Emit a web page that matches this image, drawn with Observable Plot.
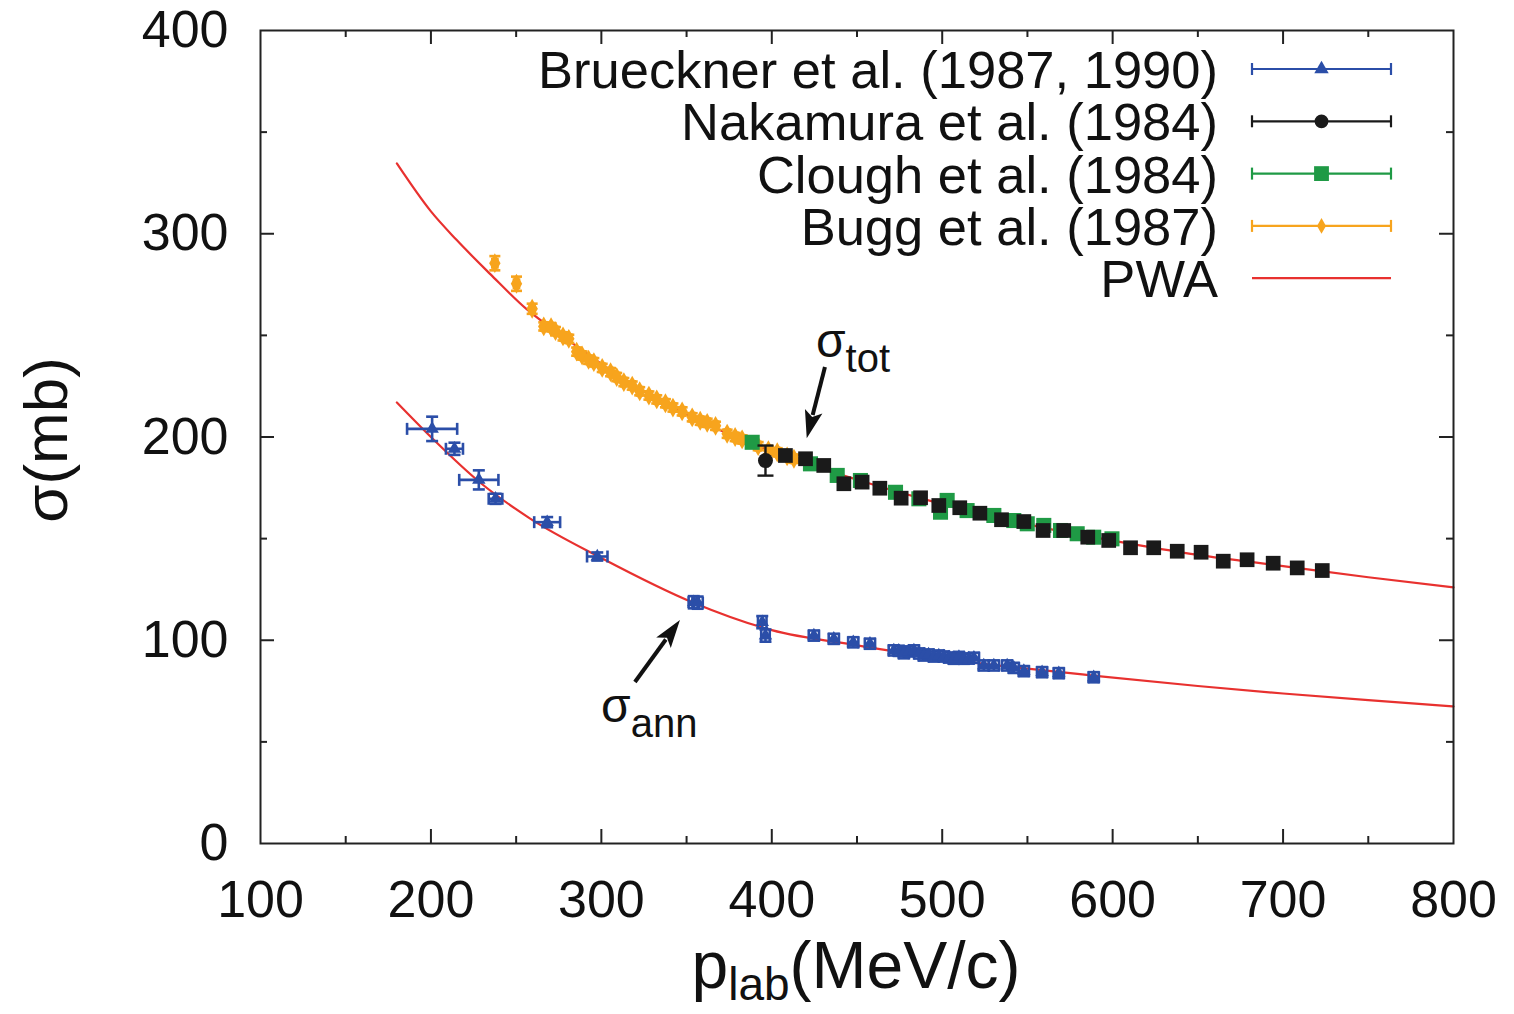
<!DOCTYPE html>
<html><head><meta charset="utf-8">
<script src="https://cdn.jsdelivr.net/npm/d3@7"></script>
<script src="https://cdn.jsdelivr.net/npm/@observablehq/plot@0.6"></script>
<style>body{margin:0;background:#fff}#chart{width:1514px;height:1014px}</style>
</head><body><div id="chart"></div>
<script>
// ---------- axis ticks ----------
const xTickLabels = [100, 200, 300, 400, 500, 600, 700, 800];
const yTickLabels = [0, 100, 200, 300, 400];
const xMajorInner = [200, 300, 400, 500, 600, 700];
const yMajorInner = [100, 200, 300];
const xMinor = [150, 250, 350, 450, 550, 650, 750];
const yMinor = [50, 150, 250, 350];

// ---------- Brueckner et al. (1987, 1990) : sigma_ann ----------
const bruecknerP  = [200.7, 213.8, 228.1, 237.9, 268.2, 297.6, 354.2, 356.5, 394.4, 396.3, 424.7, 436.4, 447.8, 457.6, 471.6, 474.5, 477.5, 480.5, 483.4, 486.5, 489.2, 492.0, 495.1, 498.0, 501.0, 504.0, 506.8, 509.8, 512.7, 515.6, 518.6, 524.4, 530.3, 538.1, 542.0, 547.9, 558.6, 568.4, 588.9];
const bruecknerS  = [204.0, 194.2, 178.9, 169.6, 158.1, 141.2, 118.7, 118.5, 108.9, 102.3, 102.3, 100.7, 99.0, 98.3, 95.0, 94.8, 93.6, 94.5, 95.0, 93.5, 92.5, 93.0, 92.0, 92.5, 92.0, 91.5, 90.9, 91.8, 90.9, 91.0, 91.4, 87.6, 87.6, 87.6, 86.4, 84.8, 84.3, 83.8, 81.8];
const bruecknerDP = [14.7, 5.0, 11.5, 4.0, 7.6, 6.0, 3.0, 3.0, 2.5, 2.5, 3, 3, 3, 3, 3, 3, 3, 3, 3, 3, 3, 3, 3, 3, 3, 3, 3, 3, 3, 3, 3, 3, 3, 3, 3, 3, 3, 3, 3];
const bruecknerDS = [6.0, 3.0, 4.7, 2.5, 2.5, 2.0, 3.0, 3.0, 3.0, 3.0, 2.5, 2.5, 2.5, 2.5, 2.5, 2.5, 2.5, 2.5, 2.5, 2.5, 2.5, 2.5, 2.5, 2.5, 2.5, 2.5, 2.5, 2.5, 2.5, 2.5, 2.5, 2.5, 2.5, 2.5, 2.5, 2.5, 2.5, 2.5, 2.5];

// ---------- Nakamura et al. (1984) ----------
const nakamuraP  = [396.3];
const nakamuraS  = [188.4];
const nakamuraDS = [7.4];

// black square points (sigma_tot)
const blackSqP = [408, 419.8, 430.5, 442.3, 453, 463.4, 475.9, 487.3, 498, 510.3, 522.1, 534.8, 547.9, 559.2, 571.3, 585.4, 597.7, 610.5, 624.1, 637.9, 651.9, 664.9, 678.9, 694.2, 708.3, 723];
const blackSqS = [190.9, 189.3, 186, 177, 177.8, 174.8, 169.9, 170.1, 166.3, 165.2, 162.5, 159.3, 158.4, 154, 154, 150.7, 149.1, 145.5, 145.5, 143.8, 143.3, 138.9, 139.6, 137.9, 135.6, 134.3];

// ---------- Clough et al. (1984) ----------
const cloughP = [388.5, 422.7, 438.4, 452, 472.6, 486.3, 499, 502.9, 514.6, 530.3, 542, 549.9, 559.6, 569.4, 579.2, 588.9, 599.6];
const cloughS = [197.4, 186.8, 181.1, 178.6, 172.8, 169.6, 163, 168.8, 163.8, 161.4, 158.9, 157.3, 156.5, 154, 152.4, 150.7, 149.9];

// ---------- Bugg et al. (1987) ----------
const buggP  = [237.5, 250.2, 259.4, 266.2, 270.5, 273.1, 277.5, 280.9, 285.5, 288.7, 292.5, 295.6, 300.5, 305.4, 309, 313.2, 318.1, 322.5, 327.9, 332.5, 337.6, 342, 347.4, 353.3, 358, 362.1, 367, 373.8, 378.5, 382.6, 392, 398, 403.2, 409, 413];
const buggS  = [285.5, 275.4, 263.1, 254.4, 254.0, 252.1, 249.5, 248.3, 242.0, 240.1, 238.0, 236.8, 234.0, 231.9, 229.5, 227, 225.3, 222.5, 220.4, 218.5, 216.6, 214.5, 212.6, 209.7, 208, 207, 205.5, 201.6, 200.0, 198.8, 195.5, 193.5, 192.5, 190.5, 189.3];
const buggDS = [3.5, 3.5, 2.5, 2, 2, 2, 2, 2, 2, 2, 2, 2, 2, 2, 2, 2, 2, 2, 2, 2, 2, 2, 2, 2, 2, 2, 2, 2, 2, 2, 2, 2, 2, 2, 2];

// ---------- PWA curves ----------
const pwaTotP = [180, 200, 215, 235, 256, 280, 300, 325, 350, 375, 400, 450, 500, 550, 600, 650, 700, 750, 800];
const pwaTotS = [334.6, 311, 297, 280, 263, 248, 236, 222.5, 211, 201.5, 193, 179, 167, 157, 149, 142, 136.5, 131, 126];
const pwaAnnP = [180, 200, 229, 258, 300, 354, 400, 450, 500, 550, 590, 650, 700, 750, 800];
const pwaAnnS = [217, 200, 177.5, 160, 140.5, 118.5, 105, 97.5, 91, 86, 82.5, 77.5, 73.8, 70.5, 67.4];

// ---------- legend & annotations ----------
const legendLabels = ["Brueckner et al. (1987, 1990)", "Nakamura et al. (1984)", "Clough et al. (1984)", "Bugg et al. (1987)", "PWA"];
const annotLabels = [{main: "σ", sub: "tot", p: 426.2, s: 239.1}, {main: "σ", sub: "ann", p: 300.1, s: 59.5}];
const annotArrows = [{p1: 431.5, s1: 234.2, p2: 420.8, s2: 199.1}, {p1: 320.0, s1: 79.2, p2: 346.4, s2: 109.7}];

// ---------- colours ----------
const BLUE = "#2b4ea8", BLACK = "#1a1a1a", GREEN = "#1f9a45", ORANGE = "#f7a41d", RED = "#e8312f";
const FONT = "Liberation Sans, Arial, Helvetica, sans-serif";

const zipRows = (P, S, DP, DS) => P.map((p, i) => ({p, s: S[i], dp: DP ? DP[i] : 0, ds: DS ? DS[i] : 0}));
const brueckner = zipRows(bruecknerP, bruecknerS, bruecknerDP, bruecknerDS);
const nakamura = zipRows(nakamuraP, nakamuraS, null, nakamuraDS);
const blackSq = zipRows(blackSqP, blackSqS);
const clough = zipRows(cloughP, cloughS);
const bugg = zipRows(buggP, buggS, buggP.map(() => 1.5), buggDS);
const pwaTot = zipRows(pwaTotP, pwaTotS);
const pwaAnn = zipRows(pwaAnnP, pwaAnnS);

const hCap = {draw(ctx, size) { const w = Math.sqrt(size / Math.PI); ctx.moveTo(-w, 0); ctx.lineTo(w, 0); }};
const vCap = {draw(ctx, size) { const w = Math.sqrt(size / Math.PI); ctx.moveTo(0, -w); ctx.lineTo(0, w); }};

function errorMarks(data, color, capR, sw = 2) {
  const xe = data.filter(d => d.dp > 0), ye = data.filter(d => d.ds > 0);
  const c = {stroke: color, strokeWidth: sw, fill: "none"};
  return [
    Plot.ruleY(xe, {y: "s", x1: d => d.p - d.dp, x2: d => d.p + d.dp, stroke: color, strokeWidth: sw}),
    Plot.ruleX(ye, {x: "p", y1: d => d.s - d.ds, y2: d => d.s + d.ds, stroke: color, strokeWidth: sw}),
    Plot.dot(xe, {x: d => d.p - d.dp, y: "s", symbol: vCap, r: capR, ...c}),
    Plot.dot(xe, {x: d => d.p + d.dp, y: "s", symbol: vCap, r: capR, ...c}),
    Plot.dot(ye, {x: "p", y: d => d.s - d.ds, symbol: hCap, r: capR, ...c}),
    Plot.dot(ye, {x: "p", y: d => d.s + d.ds, symbol: hCap, r: capR, ...c})
  ];
}

const ML = 260, MR = 61, MT = 30, MB = 171, W = 1514, H = 1014;
const pxX = 700 / (W - ML - MR), pxY = 400 / (H - MT - MB);
const TMAJ = 14, TMIN = 7;
const tickStyle = {stroke: "#222", strokeWidth: 2};

function tickMarks(vals, len) {
  return [
    Plot.ruleX(vals, {x: d => d, y1: 0, y2: len * pxY, ...tickStyle}),
    Plot.ruleX(vals, {x: d => d, y1: 400 - len * pxY, y2: 400, ...tickStyle})
  ];
}
function tickMarksY(vals, len) {
  return [
    Plot.ruleY(vals, {y: d => d, x1: 100, x2: 100 + len * pxX, ...tickStyle}),
    Plot.ruleY(vals, {y: d => d, x1: 800 - len * pxX, x2: 800, ...tickStyle})
  ];
}

const plot = Plot.plot({
  width: W, height: H,
  marginLeft: ML, marginRight: MR, marginTop: MT, marginBottom: MB,
  x: {domain: [100, 800]},
  y: {domain: [0, 400]},
  style: {fontFamily: FONT, background: "white", color: "#111"},
  marks: [
    Plot.line(pwaTot, {x: "p", y: "s", stroke: RED, strokeWidth: 2.2, curve: "monotone-x"}),
    Plot.line(pwaAnn, {x: "p", y: "s", stroke: RED, strokeWidth: 2.2, curve: "monotone-x"}),
    ...errorMarks(bugg, ORANGE, 5.5, 2.6),
    Plot.dot(bugg, {x: "p", y: "s", symbol: "diamond", r: 6, fill: ORANGE}),
    Plot.dot(clough, {x: "p", y: "s", symbol: "square", r: 8.5, fill: GREEN}),
    ...errorMarks(nakamura, BLACK, 8, 2.4),
    Plot.dot(nakamura, {x: "p", y: "s", r: 7.5, fill: BLACK}),
    Plot.dot(blackSq, {x: "p", y: "s", symbol: "square", r: 8.3, fill: BLACK}),
    ...errorMarks(brueckner, BLUE, 6, 2.6),
    Plot.dot(brueckner, {x: "p", y: "s", symbol: "triangle", r: 5, fill: BLUE}),
    ...tickMarks(xMajorInner, TMAJ), ...tickMarks(xMinor, TMIN),
    ...tickMarksY(yMajorInner, TMAJ), ...tickMarksY(yMinor, TMIN),
    Plot.frame({stroke: "#222", strokeWidth: 2}),
    Plot.axisX({ticks: xTickLabels, tickFormat: d => String(d), tickSize: 0, tickPadding: 37, fontSize: 52, label: null}),
    Plot.axisY({ticks: yTickLabels, tickFormat: d => String(d), tickSize: 0, tickPadding: 32, fontSize: 52, label: null})
  ]
});
document.getElementById("chart").appendChild(plot);

// ---------- decorations via d3 using the plot scales ----------
const sx = plot.scale("x"), sy = plot.scale("y");
const X = v => sx.apply(v), Y = v => sy.apply(v);
const svg = d3.select(plot);
const g = svg.append("g").attr("font-family", FONT).attr("fill", "#111").attr("text-anchor", "start");

// legend
const legendColors = [BLUE, BLACK, GREEN, ORANGE, RED];
const legendSymbols = [d3.symbolTriangle, d3.symbolCircle, d3.symbolSquare, d3.symbolDiamond, null];
const legendSizes = [90, 150, 220, 70, 0];
legendLabels.forEach((lab, i) => {
  const yy = 69 + i * 52.3;
  g.append("text").attr("x", 1218).attr("y", yy).attr("dy", "0.36em").attr("text-anchor", "end")
    .attr("font-size", 52.5).text(lab);
  const lg = g.append("g").attr("stroke", legendColors[i]).attr("stroke-width", 2.2);
  lg.append("line").attr("x1", 1252).attr("x2", 1391).attr("y1", yy).attr("y2", yy);
  if (i < 4) {
    lg.append("line").attr("x1", 1252).attr("x2", 1252).attr("y1", yy - 6).attr("y2", yy + 6);
    lg.append("line").attr("x1", 1391).attr("x2", 1391).attr("y1", yy - 6).attr("y2", yy + 6);
    g.append("path").attr("d", d3.symbol(legendSymbols[i], legendSizes[i])())
      .attr("transform", `translate(1321.5,${yy})`).attr("fill", legendColors[i]);
  }
});

// annotations
annotLabels.forEach(a => {
  const t = g.append("text").attr("x", X(a.p)).attr("y", Y(a.s)).attr("font-size", 48).attr("text-anchor", "start");
  t.append("tspan").text(a.main);
  t.append("tspan").attr("font-size", 40).attr("dy", 15).text(a.sub);
});
annotArrows.forEach(a => {
  const x1 = X(a.p1), y1 = Y(a.s1), x2 = X(a.p2), y2 = Y(a.s2);
  const dx = x2 - x1, dy = y2 - y1, L = Math.hypot(dx, dy), ux = dx / L, uy = dy / L;
  const hl = 28, hw = 9;
  const bx = x2 - ux * hl, by = y2 - uy * hl;
  g.append("line").attr("x1", x1).attr("y1", y1).attr("x2", bx + ux * 4).attr("y2", by + uy * 4)
    .attr("stroke", "#111").attr("stroke-width", 4);
  g.append("path").attr("d", `M${x2},${y2}L${bx - uy * hw},${by + ux * hw}L${bx + ux * 6},${by + uy * 6}L${bx + uy * hw},${by - ux * hw}Z`)
    .attr("fill", "#111");
});

// axis titles
const xt = g.append("text").attr("x", 856).attr("y", 988).attr("text-anchor", "middle").attr("font-size", 66);
xt.append("tspan").text("p");
xt.append("tspan").attr("font-size", 46).attr("dy", 12).text("lab");
xt.append("tspan").attr("dy", -12).text("(MeV/c)");
g.append("text").attr("transform", "translate(67,440) rotate(-90)").attr("text-anchor", "middle")
  .attr("font-size", 62).text("σ(mb)");
</script>
</body></html>
